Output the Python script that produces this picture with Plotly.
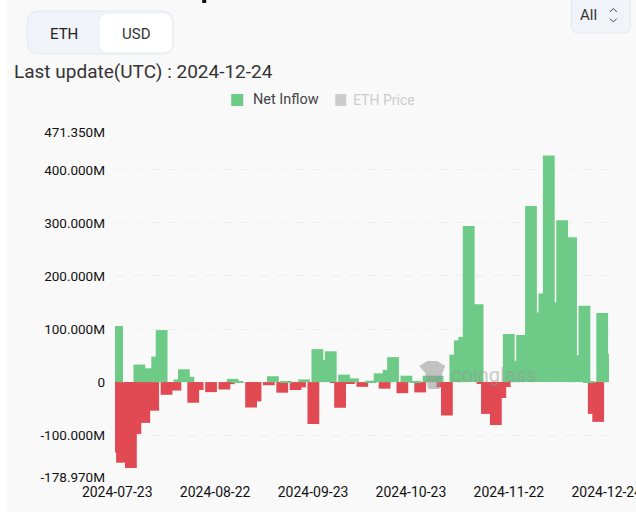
import pandas as pd
import plotly.graph_objects as go

_ = None

# business days, the axis of the chart
dates = [d.strftime('%Y-%m-%d') for d in pd.bdate_range('2024-07-23', '2024-12-24')]

# in millions
inflow = [
    105.7, _, _, _, _, 33, _, 26, _, 48,
    98, _, _, _, 5, 24, 10, _, _, _,
    _, _, _, _, _, _, 6, 1, _, _,
    _, _, _, _, _, 11, _, _, 1.5, _,
    _, _, 5, _, _, 62, 41.5, _, 58, _,
    _, 14, _, 7, _, _, _, 2.5, _, 16.5,
    _, 23, 47, _, _, 12, _, 1.5, _, _,
    12, _, 12, _, _, _, 51.5, 78.6, 85, 294,
    _, 146.5, _, _, _, _, _, _, 90.6, 40,
    _, 88.7, _, 332, 131, _, 166.7, 427, 150, _,
    305, _, 273, 51, _, 144, 2, _, _, 130,
    53,
]
outflow = [
    -133, _, -152, _, -162, -98, _, -77, _, -54,
    _, _, -24, _, -16, _, _, _, -39, -15,
    _, _, -19, _, _, -14, -4, _, -1.5, _,
    _, -48, -36.5, _, _, -6, _, _, -20, _,
    _, -15, -10, _, _, -79, _, _, _, _,
    -1.5, -48.5, _, -2.5, _, _, -9, _, _, _,
    _, -12.5, _, _, _, -21, _, _, _, -19.5,
    _, _, _, _, -10, -63, _, _, _, _,
    _, _, _, -3, -60, _, -81, -30, -9.5, _,
    _, _, _, _, _, _, _, _, _, _,
    _, _, _, _, _, _, _, _, -60, -75,
    _,
]
y_ticks = [-178.97, -100, 0, 100, 200, 300, 400, 471.35]
y_labels = ['-178.970M', '-100.000M', '0', '100.000M', '200.000M', '300.000M', '400.000M', '471.350M']
x_ticks = dates[::22]

W, H = 636, 512
L, R, T, B = 114.8, 608.7, 132, 477
FONT = 'Roboto'
GREEN = '#6dcb87'
RED = '#e24a53'


def px(x):
    return (x - L) / (R - L)


def py(y):
    return (B - y) / (B - T)


def box(x0, y0, x1, y1, fill, line='rgba(0,0,0,0)', radius=0):
    if radius:
        a, b = px(x0), px(x1)
        c, d = py(y0), py(y1)
        rx, ry = radius / (R - L), radius / (B - T)
        path = (f'M {a+rx} {c} L {b-rx} {c} Q {b} {c} {b} {c-ry} L {b} {d+ry} Q {b} {d} {b-rx} {d} '
                f'L {a+rx} {d} Q {a} {d} {a} {d+ry} L {a} {c-ry} Q {a} {c} {a+rx} {c} Z')
        return dict(type='path', xref='paper', yref='paper', path=path, fillcolor=fill,
                    line=dict(color=line, width=1), layer='below')
    return dict(type='rect', xref='paper', yref='paper', x0=px(x0), x1=px(x1), y0=py(y0), y1=py(y1),
                fillcolor=fill, line=dict(color=line, width=0), layer='below')


def label(x, y, text, size=13, color='#222', anchor='left', opacity=1):
    return dict(xref='paper', yref='paper', x=px(x), y=py(y), text=text, showarrow=False, xanchor=anchor,
                yanchor='middle', opacity=opacity, font=dict(family=FONT, size=size, color=color))


fig = go.Figure()
fig.add_trace(go.Bar(x=dates, y=outflow, name='Outflow', marker=dict(color=RED, line=dict(width=0)),
                     width=2.65, offset=-2.25))
fig.add_trace(go.Bar(x=dates, y=inflow, name='Net Inflow', marker=dict(color=GREEN, line=dict(width=0)),
                     width=2.65, offset=-1.35))

shapes = [
    box(0, 0, 6.5, 512, '#ffffff'),
    box(27, 11, 173, 54, '#f0f3f8', 'rgba(225,228,234,0.8)', 12),
    box(100, 14, 172, 52, '#ffffff', radius=8),
    box(571, -8, 630, 33, '#f0f3f8', 'rgba(225,228,234,0.8)', 7),
    box(231, 94, 243, 106, GREEN),
    box(335, 94, 346, 106, '#cccccc'),
    # watermark head
    dict(type='path', xref='paper', yref='paper', fillcolor='rgba(150,150,150,0.55)', line=dict(width=0), layer='above',
         path=f'M {px(419)} {py(366)} L {px(427)} {py(361)} L {px(437)} {py(361)} L {px(445)} {py(366)} L {px(442)} {py(373)} '
              f'L {px(439)} {py(389)} L {px(428)} {py(389)} L {px(425)} {py(373)} Z'),
    # chevrons of the select
    dict(type='path', xref='paper', yref='paper', line=dict(color='#444', width=1),
         path=f'M {px(609.5)} {py(12)} L {px(613)} {py(8.5)} L {px(616.5)} {py(12)}'),
    dict(type='path', xref='paper', yref='paper', line=dict(color='#444', width=1),
         path=f'M {px(609.5)} {py(18.5)} L {px(613)} {py(22)} L {px(616.5)} {py(18.5)}'),
    # end of the heading cut by the photo
    box(202, 0, 206, 3, '#111111'),
]

annotations = [
    label(64, 34, 'ETH', 15, anchor='center'),
    label(136, 34, 'USD', 15, '#333', anchor='center'),
    label(12, 71, 'Last update(UTC) : 2024-12-24', 19, '#333'),
    label(251, 100, 'Net Inflow', 14.5, '#444'),
    label(351, 100, 'ETH Price', 14, '#cccccc'),
    label(578, 15, 'All', 15, '#333'),
    label(449, 375, 'coinglass', 20, 'rgba(150,150,150,0.5)'),
]

fig.update_layout(
    width=W,
    height=H,
    margin=dict(l=L, r=W - R, t=T, b=H - B, pad=0, autoexpand=False),
    paper_bgcolor='#f9f9f9',
    plot_bgcolor='#f9f9f9',
    barmode='overlay',
    showlegend=False,
    font=dict(family=FONT, size=13, color='#111'),
    shapes=shapes,
    annotations=annotations,
    xaxis=dict(type='category', categoryorder='array', categoryarray=dates, range=[-0.5, 110.5],
               tickvals=x_ticks, ticktext=x_ticks, tickangle=0, showgrid=False, showline=False, zeroline=False,
               ticks='', ticklabelstandoff=5, tickfont=dict(size=14, color='#111')),
    yaxis=dict(range=[-178.97, 471.35], tickvals=y_ticks, ticktext=y_labels, showgrid=True, gridcolor='#eeeeee',
               griddash='dash', gridwidth=1, zeroline=False, showline=False, ticks='', ticklabelstandoff=9,
               tickfont=dict(size=13.5, color='#111')),
)

fig.write_html("out.html", config=dict(displayModeBar=False), post_script="document.body.style.margin='0';")
